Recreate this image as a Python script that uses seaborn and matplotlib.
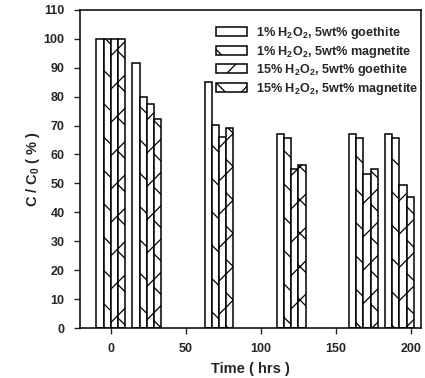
import matplotlib
matplotlib.use('Agg')
import matplotlib.pyplot as plt
import pandas as pd
import seaborn as sns

# ---------------------------------------------------------------------------
# Dados (C/C0 em %)
# ---------------------------------------------------------------------------
TEMPOS = [0, 24, 72, 120, 168, 192]
SERIES = [
    '1% H$_2$O$_2$, 5wt% goethite',
    '1% H$_2$O$_2$, 5wt% magnetite',
    '15% H$_2$O$_2$, 5wt% goethite',
    '15% H$_2$O$_2$, 5wt% magnetite',
]
H1_GOETHITE = [100, 91.5, 85, 67, 67, 67]
H1_MAGNETITE = [100, 80, 70.3, 65.7, 65.6, 65.7]
H15_GOETHITE = [100, 77.5, 66.2, 55.1, 53.3, 49.3]
H15_MAGNETITE = [100, 72.3, 69, 56.2, 55, 45.2]
HATCHES = ['', '\\', '/', 'x']
Y_TICKS = list(range(0, 111, 10))
X_TICKS = [0, 50, 100, 150, 200]

sns.set_style('ticks')
plt.rcParams['font.family'] = ['Liberation Sans', 'DejaVu Sans']
plt.rcParams['font.weight'] = 'bold'
plt.rcParams['mathtext.fontset'] = 'custom'
plt.rcParams['mathtext.rm'] = 'Liberation Sans:bold'
plt.rcParams['mathtext.bf'] = 'Liberation Sans:bold'
plt.rcParams['mathtext.it'] = 'Liberation Sans:bold'
plt.rcParams['hatch.linewidth'] = 0.9

df = pd.DataFrame({
    'tempo': TEMPOS * 4,
    'cc0': H1_GOETHITE + H1_MAGNETITE + H15_GOETHITE + H15_MAGNETITE,
    'serie': [s for s in SERIES for _ in TEMPOS],
})

fig = plt.figure(figsize=(4.25, 3.78), dpi=100)
ax = fig.add_axes([0.188, 0.132, 0.803, 0.842])

sns.barplot(data=df, x='tempo', y='cc0', hue='serie', hue_order=SERIES,
            native_scale=True, width=0.8, errorbar=None,
            palette=['white'] * 4, edgecolor='black', linewidth=1.1, ax=ax)

for cont, h in zip(ax.containers, HATCHES):
    for p in cont:
        p.set_hatch(h)
        p.set_facecolor('white')
        p.set_edgecolor('black')

if ax.get_legend() is not None:
    ax.get_legend().remove()
ax.legend(handles=list(ax.containers), labels=SERIES, loc='upper right',
          bbox_to_anchor=(1.0, 0.96), frameon=False, fontsize=9.1,
          handlelength=2.5, handleheight=0.75, labelspacing=0.2,
          handletextpad=0.7, borderaxespad=0.0, borderpad=0.2)

ax.set_xlim(-20.5, 206.5)
ax.set_ylim(0, 110)
ax.set_xticks(X_TICKS)
ax.set_yticks(Y_TICKS)
ax.tick_params(direction='out', length=4, width=1, labelsize=9)
ax.tick_params(axis='y', pad=7)
ax.tick_params(axis='x', pad=7)
for s in ax.spines.values():
    s.set_visible(True)
    s.set_linewidth(1.1)
    s.set_color('black')

ax.set_xlabel('Time ( hrs )', fontsize=10.5, fontweight='bold', labelpad=5)
ax.set_ylabel('C / C$_0$ ( % )', fontsize=10.5, fontweight='bold', labelpad=1)

plt.savefig('out.png', dpi=100)
plt.close()
